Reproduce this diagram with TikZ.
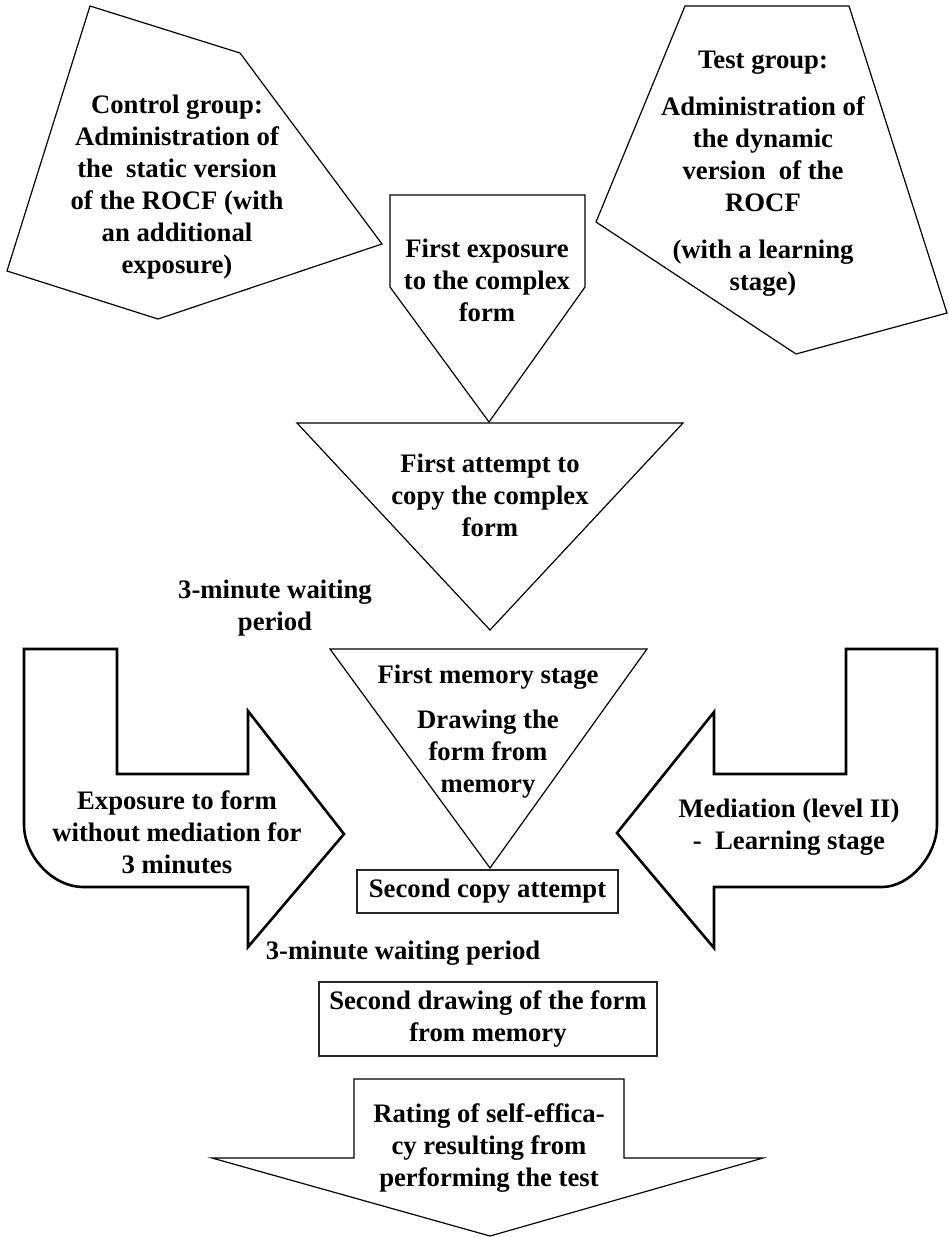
\documentclass[tikz,border=0pt]{standalone}
\usepackage{fontspec}
\setmainfont{Liberation Serif}

\begin{document}
\begin{tikzpicture}[x=1pt, y=-1pt,
		txt/.style = {align=center, inner sep=0pt, font=\fontsize{26.7}{32}\selectfont\bfseries},
		shapeline/.style = {draw, line width=1.2pt, line join=miter},
		arrowline/.style = {draw, line width=2.6pt, line join=miter},
		stepbox/.style = {txt, draw=black!85, line width=1.5pt}]
		\useasboundingbox (0,0) rectangle (948,1237);
		\draw[shapeline] (90,6) -- (240,53) -- (382,244) -- (158,319) -- (7,271) -- cycle;
		\draw[shapeline] (685,6) -- (849,6) -- (947,313) -- (796,354) -- (596,222) -- cycle;
		\draw[shapeline] (390,195) -- (585,195) -- (585,287) -- (489,422) -- (390,287) -- cycle;
		\draw[shapeline] (297,423) -- (683,423) -- (490,630) -- cycle;
		\draw[shapeline] (330,649) -- (647,649) -- (490,868) -- cycle;
		\draw[arrowline] (24,649) -- (117,649) -- (117,774) -- (248,774) -- (248,711) -- (344,834) -- (248,947) -- (248,887) -- (83,887) .. controls (52,887) and (24,855) .. (24,825) -- cycle;
		\draw[arrowline] (937,649) -- (846,649) -- (846,774) -- (714,774) -- (714,712) -- (617,833) -- (714,948) -- (714,887) -- (882,887) .. controls (910,887) and (937,855) .. (937,825) -- cycle;
		\draw[shapeline] (354,1079) -- (624,1079) -- (624,1158) -- (763,1158) -- (490,1236) -- (212,1158) -- (354,1158) -- cycle;
		\node[txt] (Control) at (177,187) {Control group:\\Administration of\\the\ \ static version\\of the ROCF (with\\an additional\\exposure)};
		\node[txt] (Test) at (763,174) {Test group:\\[15pt]Administration of\\the dynamic\\version\ \ of the\\ROCF\\[15pt](with a learning\\stage)};
		\node[txt] (Exposure) at (487,280) {First exposure\\to the complex\\form};
		\node[txt] (Attempt) at (490,495) {First attempt to\\copy the complex\\form};
		\node[txt] (WaitA) at (275,608) {3-minute waiting\\period};
		\node[txt] (Memory) at (488,732) {First memory stage\\[13pt]Drawing the\\form from\\memory};
		\node[txt] (Plain) at (177,832) {Exposure to form\\without mediation for\\3 minutes};
		\node[txt] (Mediation) at (789,827) {Mediation (level II)\\-\ \ Learning stage};
		\node[stepbox, minimum width=261pt, minimum height=43pt] (Copy) at (487.5,891.5) {Second copy attempt};
		\node[txt] (WaitB) at (403,953) {3-minute waiting period};
		\node[stepbox, minimum width=338pt, minimum height=74pt] (Drawing) at (488,1019) {Second drawing of the form\\from memory};
		\node[txt] (Rating) at (489,1148) {Rating of self-effica-\\cy resulting from\\performing the test};
	\end{tikzpicture}
\end{document}
